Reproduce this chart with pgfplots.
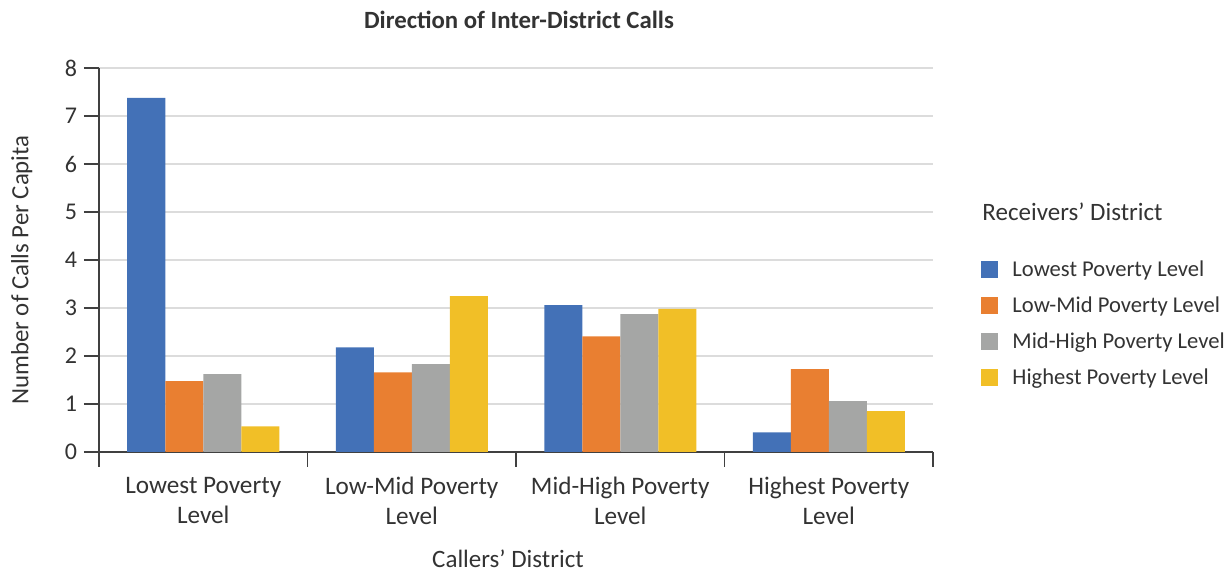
\documentclass[border=0pt]{standalone}
\usepackage{pgfplots}
\pgfplotsset{compat=1.18}
\usepackage{fontspec}
\setmainfont{Carlito}
\definecolor{cBlue}{HTML}{4371B7}
\definecolor{cOrange}{HTML}{E97F31}
\definecolor{cGray}{HTML}{A5A6A5}
\definecolor{cYellow}{HTML}{F1BF27}
\definecolor{txt}{HTML}{333333}
\definecolor{gridc}{HTML}{DCDCDC}
\definecolor{axc}{HTML}{404040}
\begin{document}
\begin{tikzpicture}
\useasboundingbox (0,0) rectangle (615.5pt,286.5pt);
\begin{axis}[
  at={(49.5pt,60.5pt)}, anchor=south west,
  scale only axis, width=417pt, height=192pt,
  ybar=0pt, bar width=19pt,
  xmin=-0.5, xmax=3.5, ymin=0, ymax=8,
  ytick={0,1,...,8},
  xtick={-0.5,0.5,1.5,2.5,3.5}, xticklabels={},
  extra x ticks={0,1,2,3},
  extra x tick labels={Lowest Poverty\\Level, Low-Mid Poverty\\Level, Mid-High Poverty\\Level, Highest Poverty\\Level},
  extra x tick style={major tick length=0pt},
  xticklabel style={font=\fontsize{12.6}{15.2}\selectfont, align=center, text=txt, yshift=-9pt},
  yticklabel style={font=\fontsize{12}{14}\selectfont, text=txt},
  /pgf/number format/assume math mode=true,
  axis x line*=bottom, axis y line*=left,
  axis line style={draw=axc, line width=0.75pt},
  tick style={draw=axc, line width=0.75pt},
  tick align=outside, major tick length=7.5pt,
  ymajorgrids, grid style={draw=gridc, line width=0.8pt},
  xlabel={Callers’ District},
  xlabel style={at={(axis description cs:0.4904,-0.300)}, anchor=base, inner sep=0pt, font=\fontsize{12.5}{14}\selectfont, text=txt},
  ylabel={Number of Calls Per Capita},
  ylabel style={at={(axis description cs:-0.0927,0.474)}, anchor=center, font=\fontsize{12.4}{14}\selectfont, text=txt},
  legend style={at={(1.0576,0.5)}, anchor=north west, draw=none, fill=none,
    font=\fontsize{11.3}{13}\selectfont, text=txt, row sep=7.5pt, inner sep=0pt,
    nodes={inner sep=0pt, text height=8pt, text depth=2.5pt},
    /tikz/every odd column/.append style={column sep=7pt}},
  legend cell align=left,
  legend image code/.code={\fill[#1] (0pt,-3.3pt) rectangle (8.5pt,5.1pt);},
]
\addplot[fill=cBlue, draw=none] coordinates {(0,7.38) (1,2.18) (2,3.06) (3,0.41)};
\addplot[fill=cOrange, draw=none] coordinates {(0,1.475) (1,1.66) (2,2.41) (3,1.725)};
\addplot[fill=cGray, draw=none] coordinates {(0,1.62) (1,1.83) (2,2.87) (3,1.06)};
\addplot[fill=cYellow, draw=none] coordinates {(0,0.536) (1,3.25) (2,2.98) (3,0.85)};
\legend{Lowest Poverty Level, Low-Mid Poverty Level, Mid-High Poverty Level, Highest Poverty Level}
\end{axis}
\node[anchor=base, font=\fontsize{12.4}{14}\selectfont\bfseries, text=txt] at (259.5pt,272pt) {Direction of Inter-District Calls};
\node[anchor=base west, inner sep=0pt, font=\fontsize{12.5}{14}\selectfont, text=txt] at (491pt,176pt) {Receivers’ District};
\end{tikzpicture}
\end{document}
